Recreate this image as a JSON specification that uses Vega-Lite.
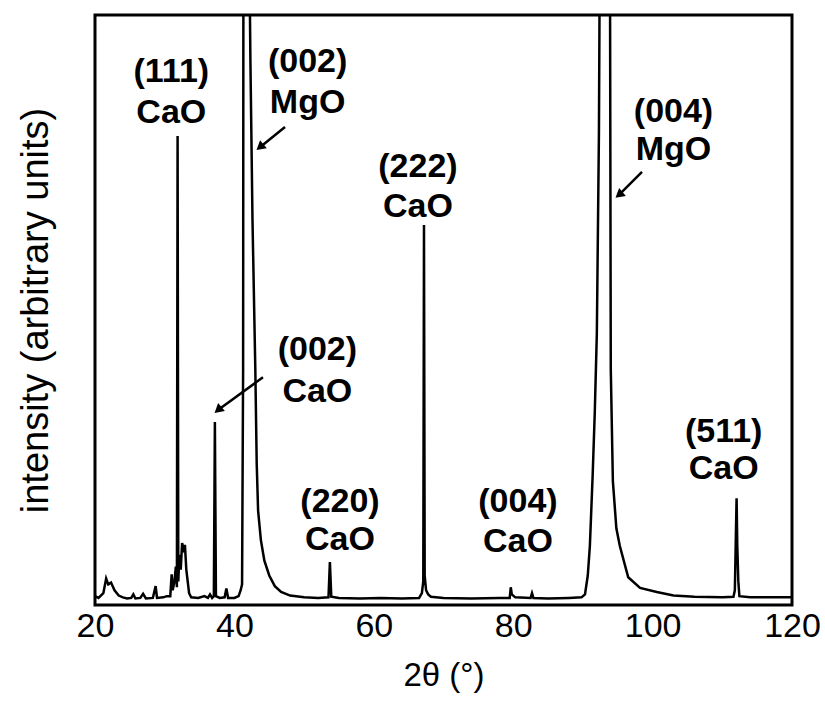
{
  "$schema": "https://vega.github.io/schema/vega-lite/v6.json",
  "width": 697,
  "height": 590,
  "autosize": {"type": "none"},
  "padding": {"left": 95, "top": 15, "right": 33, "bottom": 101},
  "background": "white",
  "config": {
    "view": {"stroke": "black", "strokeWidth": 3},
    "font": "Liberation Sans"
  },
  "datasets": {
    "trace": [
      {"tt": 20.0, "I": 1.5}, {"tt": 20.5, "I": 1.2}, {"tt": 21.2, "I": 2.0}, {"tt": 21.6, "I": 4.5},
      {"tt": 21.9, "I": 3.5}, {"tt": 22.3, "I": 3.8}, {"tt": 22.8, "I": 2.5}, {"tt": 23.4, "I": 1.6},
      {"tt": 24.0, "I": 1.3}, {"tt": 24.6, "I": 1.1}, {"tt": 25.2, "I": 1.2}, {"tt": 25.5, "I": 1.8},
      {"tt": 25.8, "I": 1.1}, {"tt": 26.5, "I": 1.2}, {"tt": 26.9, "I": 1.9}, {"tt": 27.3, "I": 1.1},
      {"tt": 28.3, "I": 1.2}, {"tt": 28.7, "I": 3.2}, {"tt": 28.9, "I": 1.2}, {"tt": 29.8, "I": 1.3},
      {"tt": 30.3, "I": 1.5}, {"tt": 30.8, "I": 1.5}, {"tt": 31.0, "I": 5.2}, {"tt": 31.15, "I": 2.5},
      {"tt": 31.4, "I": 4.0}, {"tt": 31.6, "I": 6.5}, {"tt": 31.75, "I": 3.0}, {"tt": 31.85, "I": 79.5},
      {"tt": 31.95, "I": 4.0}, {"tt": 32.1, "I": 8.5}, {"tt": 32.3, "I": 6.0}, {"tt": 32.5, "I": 10.5},
      {"tt": 32.7, "I": 9.5}, {"tt": 32.9, "I": 10.2}, {"tt": 33.1, "I": 6.0}, {"tt": 33.3, "I": 4.0},
      {"tt": 33.5, "I": 2.0}, {"tt": 33.8, "I": 1.3}, {"tt": 34.8, "I": 1.2}, {"tt": 35.7, "I": 1.5},
      {"tt": 36.2, "I": 1.2}, {"tt": 36.5, "I": 1.8}, {"tt": 36.8, "I": 1.2}, {"tt": 37.05, "I": 1.5},
      {"tt": 37.2, "I": 31.0}, {"tt": 37.35, "I": 1.5}, {"tt": 37.9, "I": 1.2}, {"tt": 38.6, "I": 1.3},
      {"tt": 38.85, "I": 2.8}, {"tt": 39.1, "I": 1.2}, {"tt": 40.0, "I": 1.2}, {"tt": 40.6, "I": 1.5},
      {"tt": 40.9, "I": 2.5}, {"tt": 41.1, "I": 3.5}, {"tt": 41.25, "I": 40}, {"tt": 41.35, "I": 200},
      {"tt": 41.7, "I": 300}, {"tt": 42.15, "I": 110}, {"tt": 42.3, "I": 92}, {"tt": 42.6, "I": 65},
      {"tt": 43.0, "I": 40}, {"tt": 43.2, "I": 24}, {"tt": 43.4, "I": 16}, {"tt": 43.8, "I": 11},
      {"tt": 44.3, "I": 7.5}, {"tt": 45.0, "I": 5.0}, {"tt": 45.8, "I": 3.2}, {"tt": 46.7, "I": 2.2},
      {"tt": 48.0, "I": 1.6}, {"tt": 50.0, "I": 1.3}, {"tt": 52.0, "I": 1.2}, {"tt": 53.5, "I": 1.3},
      {"tt": 53.7, "I": 7.3}, {"tt": 53.9, "I": 1.4}, {"tt": 55.0, "I": 1.2}, {"tt": 58.0, "I": 1.1},
      {"tt": 61.0, "I": 1.2}, {"tt": 64.0, "I": 1.1}, {"tt": 66.5, "I": 1.2}, {"tt": 66.9, "I": 2.0},
      {"tt": 67.1, "I": 4.0}, {"tt": 67.2, "I": 64.4}, {"tt": 67.3, "I": 5.0}, {"tt": 67.5, "I": 2.5},
      {"tt": 67.8, "I": 1.8}, {"tt": 68.2, "I": 1.4}, {"tt": 70.0, "I": 1.2}, {"tt": 74.0, "I": 1.1},
      {"tt": 78.0, "I": 1.2}, {"tt": 79.5, "I": 1.2}, {"tt": 79.65, "I": 3.0}, {"tt": 79.8, "I": 1.8},
      {"tt": 80.3, "I": 1.3}, {"tt": 82.5, "I": 1.2}, {"tt": 82.7, "I": 2.0}, {"tt": 82.9, "I": 1.2},
      {"tt": 85.0, "I": 1.1}, {"tt": 88.0, "I": 1.2}, {"tt": 89.8, "I": 1.3}, {"tt": 90.3, "I": 1.8},
      {"tt": 90.7, "I": 5.0}, {"tt": 91.0, "I": 10}, {"tt": 91.4, "I": 22}, {"tt": 91.7, "I": 32.5},
      {"tt": 92.0, "I": 46}, {"tt": 92.3, "I": 80}, {"tt": 92.5, "I": 130}, {"tt": 92.8, "I": 250},
      {"tt": 93.3, "I": 300}, {"tt": 93.75, "I": 200}, {"tt": 93.9, "I": 100}, {"tt": 94.0, "I": 40},
      {"tt": 94.3, "I": 21}, {"tt": 94.8, "I": 13}, {"tt": 95.3, "I": 10}, {"tt": 96.5, "I": 4.7},
      {"tt": 98.2, "I": 2.9}, {"tt": 100.6, "I": 2.2}, {"tt": 103.0, "I": 1.6}, {"tt": 106.0, "I": 1.4},
      {"tt": 110.0, "I": 1.3}, {"tt": 111.6, "I": 1.4}, {"tt": 111.8, "I": 2.5}, {"tt": 111.95, "I": 12},
      {"tt": 112.05, "I": 18.1}, {"tt": 112.15, "I": 10}, {"tt": 112.3, "I": 4.0}, {"tt": 112.45, "I": 1.5},
      {"tt": 114.0, "I": 1.3}, {"tt": 117.0, "I": 1.3}, {"tt": 120.0, "I": 1.3}
    ],
    "labels": [
      {"tt": 30.95, "I": 90.3, "label": "(111)"}, {"tt": 30.95, "I": 83.4, "label": "CaO"},
      {"tt": 50.5, "I": 92.0, "label": "(002)"}, {"tt": 50.5, "I": 85.1, "label": "MgO"},
      {"tt": 66.34, "I": 74.2, "label": "(222)"}, {"tt": 66.34, "I": 67.5, "label": "CaO"},
      {"tt": 103.0, "I": 83.6, "label": "(004)"}, {"tt": 103.0, "I": 77.1, "label": "MgO"},
      {"tt": 51.9, "I": 43.2, "label": "(002)"}, {"tt": 51.9, "I": 36.1, "label": "CaO"},
      {"tt": 55.15, "I": 17.5, "label": "(220)"}, {"tt": 55.15, "I": 11.0, "label": "CaO"},
      {"tt": 80.68, "I": 17.5, "label": "(004)"}, {"tt": 80.68, "I": 10.7, "label": "CaO"},
      {"tt": 110.2, "I": 29.3, "label": "(511)"}, {"tt": 110.2, "I": 23.0, "label": "CaO"}
    ],
    "arrows": [
      {"tt": 47.26, "I": 81.0, "tt2": 43.67, "I2": 77.6},
      {"tt": 44.1, "I": 38.6, "tt2": 37.65, "I2": 33.05},
      {"tt": 98.48, "I": 73.4, "tt2": 95.18, "I2": 69.5}
    ]
  },
  "layer": [
    {
      "data": {"name": "trace"},
      "mark": {"type": "line", "color": "black", "strokeWidth": 2.5, "clip": true},
      "encoding": {
        "x": {
          "field": "tt",
          "type": "quantitative",
          "scale": {"domain": [20, 120], "nice": false, "zero": false},
          "axis": {
            "title": "2θ (°)",
            "values": [20, 40, 60, 80, 100, 120],
            "grid": false,
            "ticks": false,
            "domain": false,
            "labelFlush": false,
            "labelFontSize": 34,
            "labelColor": "black",
            "labelPadding": 4,
            "titleFontSize": 33,
            "titleFontWeight": "normal",
            "titleColor": "black",
            "titlePadding": 16
          }
        },
        "y": {
          "field": "I",
          "type": "quantitative",
          "scale": {"domain": [0, 100], "nice": false, "zero": false},
          "axis": {
            "title": "intensity (arbitrary units)",
            "labels": false,
            "ticks": false,
            "domain": false,
            "grid": false,
            "titleFontSize": 38,
            "titleFontWeight": "normal",
            "titleColor": "black",
            "titlePadding": 40
          }
        }
      }
    },
    {
      "data": {"name": "labels"},
      "mark": {"type": "text", "fontSize": 34, "fontWeight": "bold", "color": "black", "align": "center", "baseline": "middle"},
      "encoding": {
        "x": {"field": "tt", "type": "quantitative"},
        "y": {"field": "I", "type": "quantitative"},
        "text": {"field": "label"}
      }
    },
    {
      "data": {"name": "arrows"},
      "mark": {"type": "rule", "color": "black", "strokeWidth": 2.5},
      "encoding": {
        "x": {"field": "tt", "type": "quantitative"},
        "y": {"field": "I", "type": "quantitative"},
        "x2": {"field": "tt2"},
        "y2": {"field": "I2"}
      }
    },
    {
      "data": {"name": "arrows"},
      "mark": {"type": "point", "shape": "triangle-up", "filled": true, "color": "black", "opacity": 1, "size": 110, "angle": 230},
      "encoding": {
        "x": {"field": "tt2", "type": "quantitative"},
        "y": {"field": "I2", "type": "quantitative"}
      }
    }
  ]
}
